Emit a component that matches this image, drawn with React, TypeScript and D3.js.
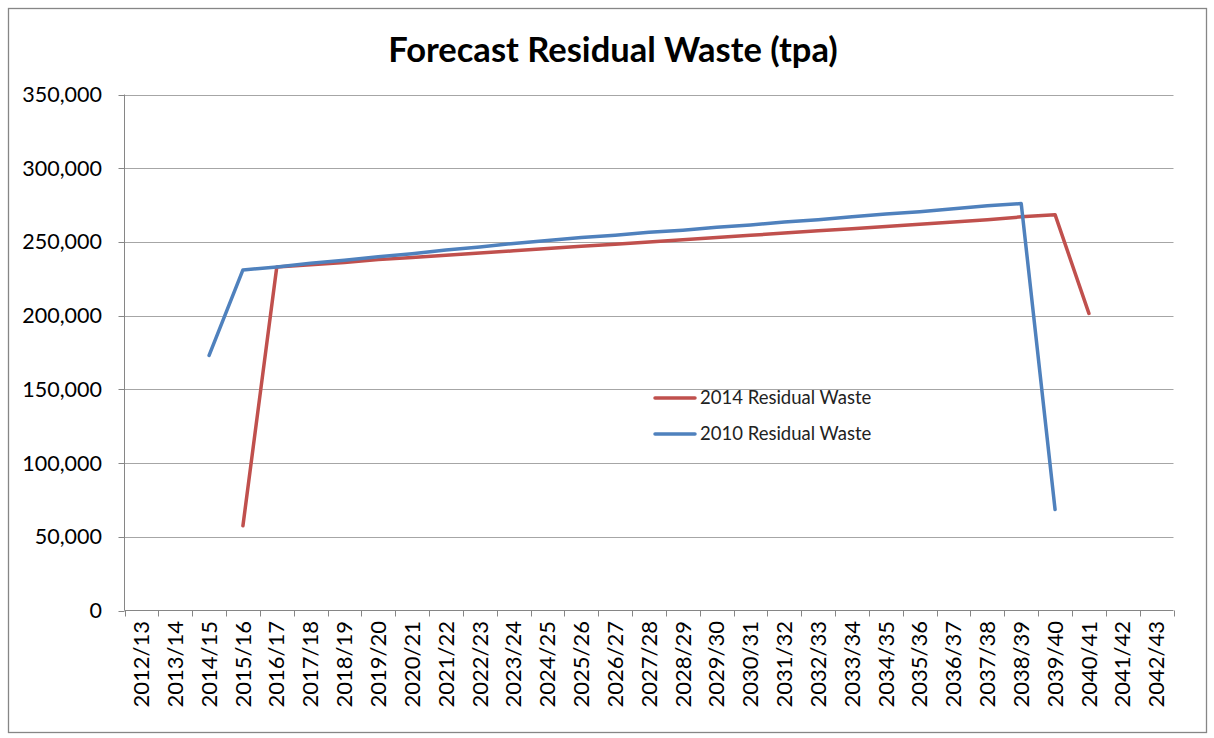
import React from "react";
import * as d3 from "d3";

const categories = [
  "2012/13", "2013/14", "2014/15", "2015/16", "2016/17", "2017/18", "2018/19", "2019/20",
  "2020/21", "2021/22", "2022/23", "2023/24", "2024/25", "2025/26", "2026/27", "2027/28",
  "2028/29", "2029/30", "2030/31", "2031/32", "2032/33", "2033/34", "2034/35", "2035/36",
  "2036/37", "2037/38", "2038/39", "2039/40", "2040/41", "2041/42", "2042/43",
];

const residual2014: (number | null)[] = [
  null, null, null, 57500, 233000, 234500, 236000, 238000,
  239500, 241000, 242500, 244000, 245500, 247000, 248500, 250000,
  251500, 253000, 254500, 256000, 257500, 259000, 260500, 262000,
  263500, 265000, 267000, 268500, 201500, null, null,
];

const residual2010: (number | null)[] = [
  null, null, 173000, 231000, 233000, 235500, 237500, 240000,
  242000, 244500, 246500, 249000, 251000, 253000, 254500, 256500,
  258000, 260000, 261500, 263500, 265000, 267000, 269000, 270500,
  272500, 274500, 276000, 68500, null, null, null,
];

const yTicks = [0, 50000, 100000, 150000, 200000, 250000, 300000, 350000];

const seriesList = [
  { name: "2014 Residual Waste", values: residual2014, color: "#C0504D" },
  { name: "2010 Residual Waste", values: residual2010, color: "#4F81BD" },
];

const W = 1214;
const H = 738;
const FONT = "Lato, 'Open Sans', sans-serif";

export default function App() {
  const left = 124.5;
  const right = 1173.5;
  const top = 94.5;
  const bottom = 610.5;

  const x = d3.scaleBand<string>().domain(categories).range([left, right]).padding(0);
  const y = d3.scaleLinear().domain([0, 350000]).range([bottom, top]);
  const bw = x.bandwidth();
  const fmt = d3.format(",");

  const line = d3
    .line<number | null>()
    .defined((d) => d !== null)
    .x((_, i) => (x(categories[i]) as number) + bw / 2)
    .y((d) => y(d as number));

  const boundaries = categories.map((c) => x(c) as number).concat([right]);

  return (
    <svg width={W} height={H} style={{ position: "absolute", left: 0, top: 0, background: "#fff" }}>
      <rect x={8.5} y={8.5} width={1198} height={724} fill="#fff" stroke="#868686" strokeWidth={1.3} />
      <text
        x={613}
        y={62}
        textAnchor="middle"
        fontFamily={FONT}
        fontWeight="bold"
        fontSize={34.5}
        fill="#000"
      >
        Forecast Residual Waste (tpa)
      </text>

      {yTicks.map((t) => (
        <g key={t}>
          {t > 0 && <line x1={left} x2={right} y1={Math.round(y(t)) + 0.5} y2={Math.round(y(t)) + 0.5} stroke="#a6a6a6" strokeWidth={1} />}
          <line x1={left - 6} x2={left} y1={Math.round(y(t)) + 0.5} y2={Math.round(y(t)) + 0.5} stroke="#868686" strokeWidth={1} />
          <text
            x={102}
            y={y(t)}
            dy="0.35em"
            textAnchor="end"
            fontFamily={FONT}
            fontSize={21.5}
            fill="#000"
          >
            {fmt(t)}
          </text>
        </g>
      ))}

      <line x1={left} x2={left} y1={top} y2={bottom} stroke="#868686" strokeWidth={1} />
      <line x1={left} x2={right} y1={bottom} y2={bottom} stroke="#868686" strokeWidth={1} />
      {boundaries.map((b, i) => (
        <line key={i} x1={Math.round(b) + 0.5} x2={Math.round(b) + 0.5} y1={bottom} y2={bottom + 6} stroke="#868686" strokeWidth={1} />
      ))}

      {categories.map((c) => {
        const cx = (x(c) as number) + bw / 2;
        return (
          <text
            key={c}
            transform={`translate(${cx},${621}) rotate(-90)`}
            textAnchor="end"
            dy="0.35em"
            fontFamily={FONT}
            fontSize={22}
            fill="#000"
          >
            {c}
          </text>
        );
      })}

      {seriesList.map((s) => (
        <path
          key={s.name}
          d={line(s.values) || ""}
          fill="none"
          stroke={s.color}
          strokeWidth={3.5}
          strokeLinejoin="round"
          strokeLinecap="round"
        />
      ))}

      {seriesList.map((s, i) => (
        <g key={s.name} transform={`translate(655,${398 + i * 36})`}>
          <line x1={0} x2={40} y1={0} y2={0} stroke={s.color} strokeWidth={3.5} strokeLinecap="round" />
          <text x={45} y={0} dy="0.35em" fontFamily={FONT} fontSize={18.5} fill="#222">
            {s.name}
          </text>
        </g>
      ))}
    </svg>
  );
}
